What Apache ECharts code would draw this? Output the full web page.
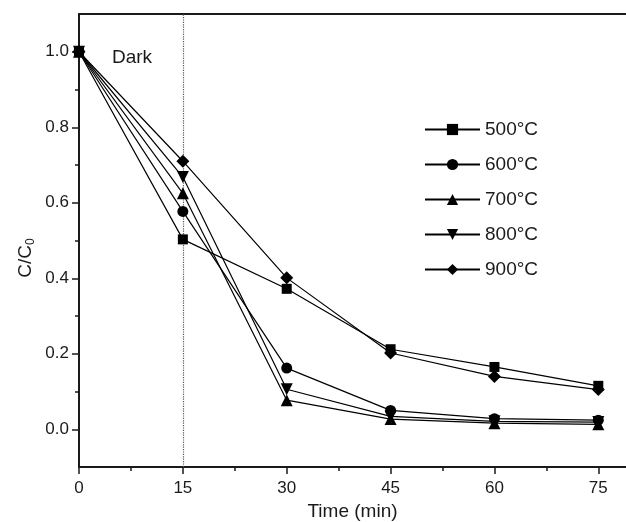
<!DOCTYPE html>
<html><head><meta charset="utf-8">
<script src="https://cdn.jsdelivr.net/npm/echarts@6/dist/echarts.min.js"></script>
<style>html,body{margin:0;padding:0;background:#fff}#c{width:626px;height:522px}</style>
</head><body><div id="c"></div>
<script>
var times = [0, 15, 30, 45, 60, 75];
var seriesNames = ['500°C', '600°C', '700°C', '800°C', '900°C'];
var v500 = [1.0, 0.503, 0.372, 0.212, 0.165, 0.115];
var v600 = [1.0, 0.577, 0.162, 0.050, 0.028, 0.024];
var v700 = [1.0, 0.625, 0.077, 0.027, 0.016, 0.013];
var v800 = [1.0, 0.668, 0.106, 0.034, 0.021, 0.019];
var v900 = [1.0, 0.710, 0.401, 0.202, 0.140, 0.105];
var xTicks = [0, 15, 30, 45, 60, 75];
var xMinor = [7.5, 22.5, 37.5, 52.5, 67.5];
var yTicks = [0.0, 0.2, 0.4, 0.6, 0.8, 1.0];
var yMinor = [0.1, 0.3, 0.5, 0.7, 0.9];
var darkTime = 15;

var symbols = ['rect', 'circle', 'triangle', 'path://M0,0 L10,0 L5,9 Z', 'diamond'];
var sizes = [10, 11, 12, 12, 13];
var allVals = [v500, v600, v700, v800, v900];
var font = 'Liberation Sans, Arial, sans-serif';
var ink = '#1a1a1a';

var series = allVals.map(function (vals, i) {
  var s = {
    name: seriesNames[i], type: 'line',
    data: vals.map(function (v, j) { return [times[j], v]; }),
    symbol: symbols[i], symbolSize: sizes[i], showAllSymbol: true,
    itemStyle: { color: '#000' },
    lineStyle: { color: '#000', width: 1.2 },
    z: 5
  };
  if (i === 0) {
    s.markLine = {
      silent: true, symbol: 'none', label: { show: false },
      lineStyle: { color: '#555', type: 'dotted', width: 1.2 },
      data: [{ xAxis: darkTime }]
    };
  }
  return s;
});

var chart = echarts.init(document.getElementById('c'));
chart.setOption({
  animation: false,
  backgroundColor: '#fff',
  grid: { left: 79, right: 0, top: 14, bottom: 55, containLabel: false, outerBoundsMode: 'none' },
  xAxis: [{
    type: 'value', min: 0, max: 79, position: 'bottom',
    name: 'Time (min)', nameLocation: 'middle', nameGap: 35,
    nameTextStyle: { fontFamily: font, fontSize: 19, color: ink },
    axisLine: { show: true, onZero: false, lineStyle: { color: ink, width: 2 } },
    axisTick: { show: true, customValues: xTicks, length: 7, lineStyle: { color: ink, width: 1.5 } },
    axisLabel: { customValues: xTicks, fontFamily: font, fontSize: 17, color: ink, margin: 13 },
    splitLine: { show: false }
  }, {
    type: 'value', min: 0, max: 79, position: 'bottom',
    axisLine: { show: false, onZero: false },
    axisTick: { show: true, customValues: xMinor, length: 4, lineStyle: { color: ink, width: 1.5 } },
    axisLabel: { show: false }, splitLine: { show: false }
  }, {
    type: 'value', min: 0, max: 79, position: 'top',
    axisLine: { show: true, onZero: false, lineStyle: { color: ink, width: 2 } },
    axisTick: { show: false }, axisLabel: { show: false }, splitLine: { show: false }
  }],
  yAxis: [{
    type: 'value', min: -0.1, max: 1.1,
    axisLine: { show: true, onZero: false, lineStyle: { color: ink, width: 2 } },
    axisTick: { show: true, customValues: yTicks, length: 7, lineStyle: { color: ink, width: 1.5 } },
    axisLabel: { customValues: yTicks, fontFamily: font, fontSize: 17, color: ink, margin: 10,
      formatter: function (v) { return v.toFixed(1); } },
    splitLine: { show: false }
  }, {
    type: 'value', min: -0.1, max: 1.1, position: 'left',
    axisLine: { show: false, onZero: false },
    axisTick: { show: true, customValues: yMinor, length: 4, lineStyle: { color: ink, width: 1.5 } },
    axisLabel: { show: false }, splitLine: { show: false }
  }],
  legend: {
    orient: 'vertical', left: 419, top: 114, itemGap: 14,
    itemWidth: 55, itemHeight: 14,
    textStyle: { fontFamily: font, fontSize: 19, lineHeight: 21, color: ink },
    data: seriesNames
  },
  graphic: [{
    type: 'text', left: 112, top: 48,
    style: { text: 'Dark', font: '19px Liberation Sans, Arial, sans-serif', fill: ink }
  }, {
    type: 'text', x: 26, y: 258, rotation: Math.PI / 2,
    style: {
      text: 'C/C{sub|0}', font: '19px Liberation Sans, Arial, sans-serif', fill: ink,
      align: 'center', verticalAlign: 'middle',
      rich: { sub: { font: '12px Liberation Sans, Arial, sans-serif', fill: ink, padding: [9, 0, 0, 0] } }
    }
  }],
  series: series
});
</script></body></html>
